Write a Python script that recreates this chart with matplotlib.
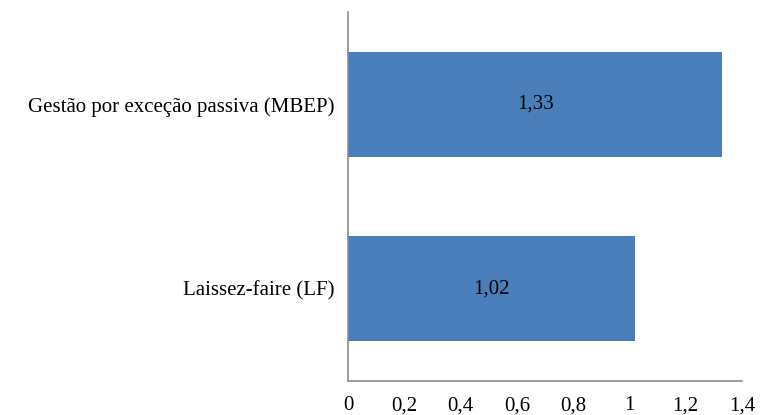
import matplotlib.pyplot as plt
import numpy as np

# mean scores per leadership style
categories = ['Laissez-faire (LF)', 'Gestão por exceção passiva (MBEP)']
values = [1.02, 1.33]
xticks = [0, 0.2, 0.4, 0.6, 0.8, 1, 1.2, 1.4]

def fmt_pt(v):
    # Portuguese decimal comma
    s = ('%g' % v)
    return s.replace('.', ',')

plt.rcParams['font.family'] = ['Liberation Serif', 'DejaVu Serif']

fig = plt.figure(figsize=(7.6, 4.15), dpi=100)
ax = fig.add_axes([0.4579, 0.0819, 0.5184, 0.8892])

y = np.arange(len(categories))
bars = ax.barh(y, values, height=0.57, color='#4a7ebb', edgecolor='none')

for b, v in zip(bars, values):
    ax.text(b.get_width() / 2, b.get_y() + b.get_height() / 2, fmt_pt(v),
            ha='center', va='center', fontsize=15, color='black')

ax.set_xlim(0, 1.4)
ax.set_ylim(-0.5, 1.5)
ax.set_xticks(xticks)
ax.set_xticklabels([fmt_pt(t) for t in xticks], fontsize=15)
ax.set_yticks(y)
ax.set_yticklabels(categories, fontsize=15)
ax.tick_params(axis='x', length=0, pad=11)
ax.tick_params(axis='y', length=0, pad=10)

for s in ['top', 'right']:
    ax.spines[s].set_visible(False)
for s in ['left', 'bottom']:
    ax.spines[s].set_color('#8c8c8c')
    ax.spines[s].set_linewidth(1.2)

fig.savefig('out.png', dpi=100)
